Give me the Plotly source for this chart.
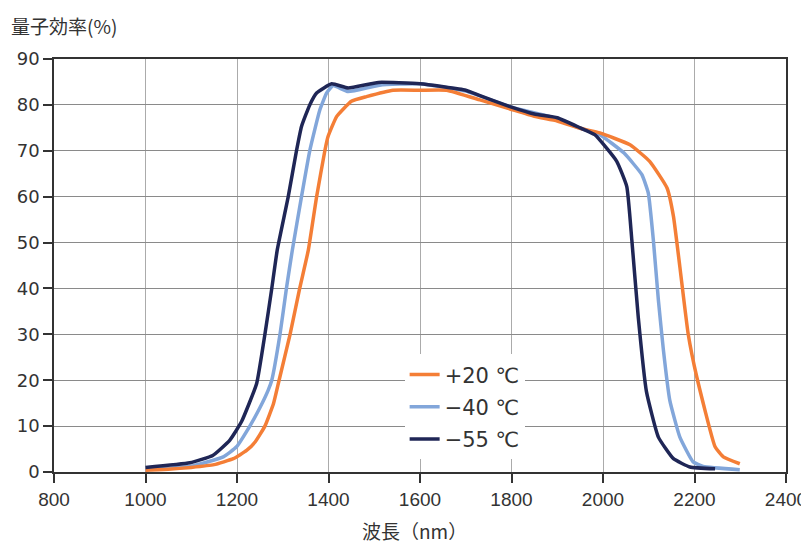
import plotly.graph_objects as go

# Wavelength (nm) and quantum efficiency (%)
wl_20 = [1000, 1050, 1100, 1150, 1192, 1221, 1240, 1261, 1280, 1292, 1316, 1337, 1356, 1374, 1392, 1399,
         1418, 1450, 1483, 1541, 1600, 1658, 1731, 1800, 1850, 1900, 1950, 1993, 2059, 2102, 2140, 2154,
         2168, 2186, 2205, 2245, 2263, 2299]
qe_20 = [0.4, 0.6, 1.0, 1.6, 2.9, 4.7, 6.6, 10, 15, 20, 30, 40, 48.4, 60, 70, 73.1,
         77.5, 80.8, 81.8, 83.2, 83.2, 83.2, 81.1, 79.0, 77.5, 76.5, 74.9, 73.9, 71.3, 67.7, 61.9, 55.7,
         44.7, 30.2, 20.7, 5.5, 3.3, 1.8]

wl_40 = [1000, 1097, 1170, 1199, 1228, 1250, 1268, 1276, 1294, 1308, 1321, 1341, 1359, 1381, 1396, 1410,
         1443, 1512, 1600, 1700, 1800, 1900, 1950, 1993, 2046, 2085, 2099, 2110, 2121, 2132, 2146, 2168,
         2197, 2219, 2299]
qe_40 = [0.5, 1.2, 3.3, 5.5, 10, 14, 17.8, 20, 30, 40, 48.4, 60, 70, 78.9, 82.6, 84.2,
         82.9, 84.3, 84.6, 83.0, 79.5, 77.0, 74.9, 73.5, 69.5, 64.8, 60.8, 50.6, 37.5, 26.6, 15.6, 7.6,
         2.2, 1.2, 0.5]

wl_55 = [1000, 1097, 1147, 1184, 1210, 1243, 1261, 1276, 1288, 1312, 1330, 1341, 1359, 1374, 1407, 1443,
         1509, 1600, 1700, 1731, 1800, 1850, 1900, 1950, 1982, 2030, 2052, 2063, 2077, 2095, 2121, 2154,
         2190, 2245]
qe_55 = [1.0, 2.0, 3.6, 6.9, 11.0, 19.3, 30, 40, 48.4, 60, 70, 75.3, 80, 82.6, 84.6, 83.7,
         84.9, 84.6, 83.2, 82.0, 79.5, 78.0, 77.2, 75.0, 73.5, 67.7, 62.2, 50.6, 33.8, 17.5, 7.6, 2.9,
         1.1, 0.7]

names = ["+20 \u2103", "\u221240 \u2103", "\u221255 \u2103"]
colors = ["#F47E36", "#82A6DA", "#1F2656"]
x_ticks = [800, 1000, 1200, 1400, 1600, 1800, 2000, 2200, 2400]
y_ticks = [0, 10, 20, 30, 40, 50, 60, 70, 80, 90]

fig = go.Figure()
series = [(wl_40, qe_40, names[1], colors[1], 2),
          (wl_20, qe_20, names[0], colors[0], 1),
          (wl_55, qe_55, names[2], colors[2], 3)]
for xs, ys, nm, col, rank in series:
    fig.add_trace(go.Scatter(x=xs, y=ys, name=nm, mode="lines", legendrank=rank, legendgroup=nm,
                             line=dict(color=col, width=3.5, shape="spline", smoothing=0.4)))

txt = "#333333"
# page body has an 8px margin, so the figure is sized/offset to compensate
fig.update_layout(
    width=801, height=538,
    margin=dict(l=46, r=23, t=51, b=74, autoexpand=False),
    paper_bgcolor="white", plot_bgcolor="white",
    font=dict(family="DejaVu Sans, sans-serif", color=txt, size=18),
    showlegend=True,
    legend=dict(x=0.479, y=0.285, xanchor="left", yanchor="top", bgcolor="white",
                font=dict(size=21, family="DejaVu Sans, sans-serif", color=txt),
                traceorder="grouped", itemwidth=30, tracegroupgap=2),
)
fig.update_xaxes(range=[800, 2400], tickvals=x_ticks, ticktext=[str(v) for v in x_ticks],
                 showgrid=True, gridcolor="#ababab", gridwidth=1, automargin=False,
                 showline=True, linecolor="#333", linewidth=1.5, mirror=True,
                 ticks="outside", ticklen=9, tickcolor="#333", tickwidth=1.5,
                 tickfont=dict(family="Liberation Sans, Arial, sans-serif", size=19, color=txt),
                 zeroline=False)
fig.update_yaxes(range=[0, 90], tickvals=y_ticks, automargin=False,
                 showgrid=True, gridcolor="#8a8a8a", gridwidth=1,
                 showline=True, linecolor="#333", linewidth=1.5, mirror=True,
                 ticks="outside", ticklen=9, tickcolor="#333", tickwidth=1.5,
                 tickfont=dict(family="DejaVu Sans, sans-serif", size=18, color=txt),
                 zeroline=False)
fig.add_annotation(text="量子効率(%)", xref="paper", yref="paper", x=-0.0615, y=1.1188,
                   xanchor="left", yanchor="top", showarrow=False,
                   font=dict(family="Noto Sans CJK JP", size=19, color=txt))
fig.add_annotation(text="波長（nm）", xref="paper", yref="paper", x=0.493, y=-0.141,
                   xanchor="center", yanchor="middle", showarrow=False,
                   font=dict(family="Noto Sans CJK JP", size=19, color=txt))
fig.write_html("out.html")
